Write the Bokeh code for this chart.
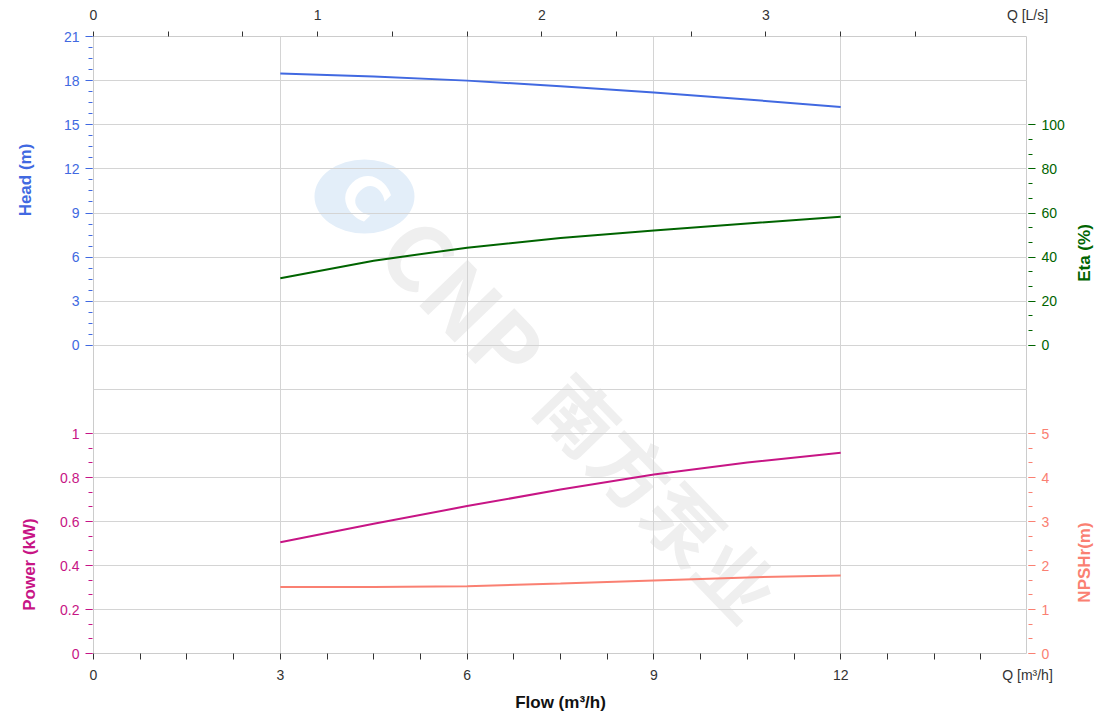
import math
from bokeh.plotting import figure
from bokeh.models import (Range1d, LinearAxis, FixedTicker, Label, Grid, CustomJSTickFormatter)
from bokeh.layouts import column, row
from bokeh.embed import file_html
from bokeh.resources import INLINE

# ---------------- data ----------------
flow = [3, 4.5, 6, 7.5, 9, 10.5, 12]                      # m³/h
head = [18.49, 18.28, 18.0, 17.62, 17.2, 16.72, 16.2]      # m
eta = [30.4, 38.4, 44.3, 48.7, 52.1, 55.2, 58.3]           # %
power = [0.506, 0.590, 0.670, 0.745, 0.814, 0.868, 0.913]  # kW
npshr = [1.51, 1.51, 1.53, 1.59, 1.66, 1.73, 1.77]         # m

flow_ticks = [0, 3, 6, 9, 12, 15]
ls_ticks = [0, 1, 2, 3]
head_ticks = [0, 3, 6, 9, 12, 15, 18, 21]
eta_ticks = [0, 20, 40, 60, 80, 100]
power_ticks = [0, 0.2, 0.4, 0.6, 0.8, 1]
npsh_ticks = [0, 1, 2, 3, 4, 5]

flow_label = "Q [m³/h]"
ls_label = "Q [L/s]"
watermark_latin = "CNP"
watermark_cjk = "南方泵业"

# ---------------- styles / geometry ----------------
FONT = "Liberation Sans"
HEAD_C = "#4169E1"
ETA_C = "#006400"
POW_C = "#C71585"
NPSH_C = "#FA8072"
GRID_C = "#d4d4d4"
TICK_C = "#333333"

QMAX = 15
LS_MAX = QMAX / 3.6
FRAME_W, FRAME_H = 934, 617
UPPER_H = 353
LOWER_H = FRAME_H - UPPER_H
PAD = 10                       # room above/below the frame inside the middle row
TOP_H, BOT_PAD = 26, 52
LEFT_TITLE_W, LEFT_AXIS_W = 52, 40
RIGHT_AXIS_W, RIGHT_TITLE_W = 42, 49

head_lo, head_hi = -3, 21
eta_lo, eta_hi = -20, 140
pow_hi = 1.2
npsh_hi = 6

head_start = head_lo - (head_hi - head_lo) * LOWER_H / UPPER_H
eta_start = eta_lo - (eta_hi - eta_lo) * LOWER_H / UPPER_H
pow_end = pow_hi * FRAME_H / LOWER_H
npsh_end = npsh_hi * FRAME_H / LOWER_H


def blank(frame_width, frame_height, x_range, y_range, **borders):
    b = dict(min_border_left=0, min_border_right=0, min_border_top=0, min_border_bottom=0)
    b.update(borders)
    f = figure(frame_width=frame_width, frame_height=frame_height, x_range=x_range, y_range=y_range,
               output_backend="svg", toolbar_location=None,
               x_axis_location=None, y_axis_location=None,
               background_fill_color="white", border_fill_color="white", **b)
    f.outline_line_color = None
    f.grid.visible = False
    return f


def tick_axis(ticks, minor, color, **kw):
    return LinearAxis(ticker=FixedTicker(ticks=ticks, minor_ticks=minor),
                      axis_line_color=None,
                      major_tick_line_color=color, minor_tick_line_color=color,
                      major_tick_out=7, major_tick_in=0, minor_tick_out=4, minor_tick_in=0,
                      major_label_text_color=color, major_label_text_font=FONT,
                      major_label_text_font_size="14px", major_label_standoff=6, **kw)


def ticks_only(positions, out, **kw):
    # only (minor) tick marks, no labels at all
    return LinearAxis(ticker=FixedTicker(ticks=[], minor_ticks=positions), axis_line_color=None,
                      major_tick_line_color=None, major_tick_out=0, major_tick_in=0,
                      minor_tick_line_color=TICK_C, minor_tick_out=out, minor_tick_in=0,
                      major_label_standoff=0, **kw)


def labels_only(ticks, overrides, standoff, **kw):
    return LinearAxis(ticker=FixedTicker(ticks=ticks), axis_line_color=None,
                      major_tick_line_color=None, major_tick_out=0, major_tick_in=0,
                      minor_tick_line_color=None, minor_tick_out=0, minor_tick_in=0,
                      major_label_text_color=TICK_C, major_label_text_font=FONT,
                      major_label_text_font_size="14px", major_label_standoff=standoff,
                      major_label_overrides=overrides, **kw)


x_rng = Range1d(0, QMAX)
ls_rng = Range1d(0, LS_MAX)

# ---------------- main plotting area ----------------
M = figure(frame_width=FRAME_W, frame_height=FRAME_H, x_range=x_rng, y_range=Range1d(head_start, head_hi),
           output_backend="svg", toolbar_location=None, x_axis_location=None, y_axis_location=None,
           min_border_left=0, min_border_right=0, min_border_top=PAD, min_border_bottom=PAD,
           background_fill_color="white", border_fill_color="white")
M.extra_y_ranges = {"eta": Range1d(eta_start, eta_hi),
                    "power": Range1d(0, pow_end),
                    "npsh": Range1d(0, npsh_end)}
M.extra_x_ranges = {"ls": ls_rng}
M.outline_line_color = "#cccccc"
M.xgrid.ticker = FixedTicker(ticks=[0, 3, 6, 9, 12, 15])
M.ygrid.ticker = FixedTicker(ticks=[head_lo] + head_ticks)
for g in (M.xgrid, M.ygrid):
    g.grid_line_color = GRID_C
M.add_layout(Grid(dimension=1, y_range_name="power", ticker=FixedTicker(ticks=power_ticks),
                  grid_line_color=GRID_C))

# tick marks of the top (L/s) and bottom (m³/h) scales
M.add_layout(ticks_only([k / 3 for k in range(12)], 5, x_range_name="ls"), "above")
M.add_layout(ticks_only([k * 0.75 for k in range(21)], 6), "below")

# watermark (behind the grid)
M.ellipse(x=[4.352], y=[10.12], width=100, height=74, width_units="screen", height_units="screen",
          angle=0, fill_color="#e3eef9", line_color=None, level="image")
M.add_layout(Label(x=4.352, y=10.12, text="C", angle=-0.8, text_align="center", text_baseline="middle",
                   text_font="DejaVu Sans", text_font_style="bold", text_font_size="58px",
                   text_color="white", level="image"))
M.add_layout(Label(x=5.974, y=3.255, text=watermark_latin, angle=-0.805, text_align="center",
                   text_baseline="middle", text_font="Noto Sans CJK SC", text_font_style="bold",
                   text_font_size="90px", text_color="#efefef", level="image"))
M.add_layout(Label(x=9.10, y=-10.2, text=watermark_cjk, angle=-0.805, text_align="center",
                   text_baseline="middle", text_font="Noto Sans CJK SC", text_font_style="bold",
                   text_font_size="76px", text_color="#efefef", level="image"))

M.line(flow, head, line_color=HEAD_C, line_width=2)
M.line(flow, eta, line_color=ETA_C, line_width=2, y_range_name="eta")
M.line(flow, power, line_color=POW_C, line_width=2, y_range_name="power")
M.line(flow, npshr, line_color=NPSH_C, line_width=2, y_range_name="npsh")

side_l = LEFT_TITLE_W + LEFT_AXIS_W + 1
side_r = RIGHT_AXIS_W + RIGHT_TITLE_W

# ---------------- top scale labels (L/s) ----------------
TOP = blank(FRAME_W, 1, ls_rng, Range1d(0, 1),
            min_border_left=side_l, min_border_right=side_r, min_border_top=TOP_H - 1)
TOP.add_layout(labels_only(ls_ticks + [LS_MAX], {LS_MAX: ls_label}, 3), "above")

# ---------------- bottom scale labels (m³/h) ----------------
BOT = blank(FRAME_W, 1, x_rng, Range1d(0, 1),
            min_border_left=side_l, min_border_right=side_r, min_border_bottom=BOT_PAD)
BOT.add_layout(labels_only(flow_ticks, {15: flow_label}, 2,
                           axis_label="Flow (m³/h)", axis_label_standoff=7,
                           axis_label_text_color="#111111", axis_label_text_font=FONT,
                           axis_label_text_font_style="bold", axis_label_text_font_size="17px"), "below")

# ---------------- left axes ----------------
L_up = blank(1, UPPER_H, Range1d(0, 1), Range1d(head_lo, head_hi),
             min_border_left=LEFT_AXIS_W, min_border_top=PAD)
L_up.add_layout(tick_axis(head_ticks, [k * 0.75 for k in range(29)], HEAD_C), "left")
L_lo = blank(1, LOWER_H, Range1d(0, 1), Range1d(0, pow_hi),
             min_border_left=LEFT_AXIS_W, min_border_bottom=PAD)
L_lo.add_layout(tick_axis(power_ticks, [k * 0.2 / 3 for k in range(16)], POW_C,
                          formatter=CustomJSTickFormatter(code="return String(Math.round(tick*10)/10)")),
                "left")

# ---------------- right axes ----------------
R_up = blank(1, UPPER_H, Range1d(0, 1), Range1d(eta_lo, eta_hi),
             min_border_right=RIGHT_AXIS_W, min_border_top=PAD)
R_up.add_layout(tick_axis(eta_ticks, [k * 20 / 3 for k in range(16)], ETA_C), "right")
R_lo = blank(1, LOWER_H, Range1d(0, 1), Range1d(0, npsh_hi),
             min_border_right=RIGHT_AXIS_W, min_border_bottom=PAD)
R_lo.add_layout(tick_axis(npsh_ticks, [k / 3 for k in range(16)], NPSH_C), "right")

# ---------------- axis titles (page pixel coordinates) ----------------
mid_h = FRAME_H + 2 * PAD
y_page = (TOP_H + mid_h, TOP_H)
right_x0 = side_l + FRAME_W + RIGHT_AXIS_W + 1
T_left = blank(LEFT_TITLE_W, mid_h, Range1d(0, LEFT_TITLE_W), Range1d(*y_page))
T_right = blank(RIGHT_TITLE_W - 1, mid_h, Range1d(right_x0, right_x0 + RIGHT_TITLE_W - 1), Range1d(*y_page))

title_kw = dict(angle=math.pi / 2, text_align="center", text_baseline="middle",
                text_font=FONT, text_font_style="bold", text_font_size="17px")
T_left.add_layout(Label(x=24.5, y=169.5, text="Head (m)", text_color=HEAD_C, **title_kw))
T_left.add_layout(Label(x=29, y=554, text="Power (kW)", text_color=POW_C, **title_kw))
T_right.add_layout(Label(x=1083.5, y=242.5, text="Eta (%)", text_color=ETA_C, **title_kw))
T_right.add_layout(Label(x=1083.5, y=552, text="NPSHr(m)", text_color=NPSH_C, **title_kw))

layout = column(TOP,
                row(T_left, column(L_up, L_lo), M, column(R_up, R_lo), T_right),
                BOT)
open("out.html", "w").write(file_html(layout, INLINE))
